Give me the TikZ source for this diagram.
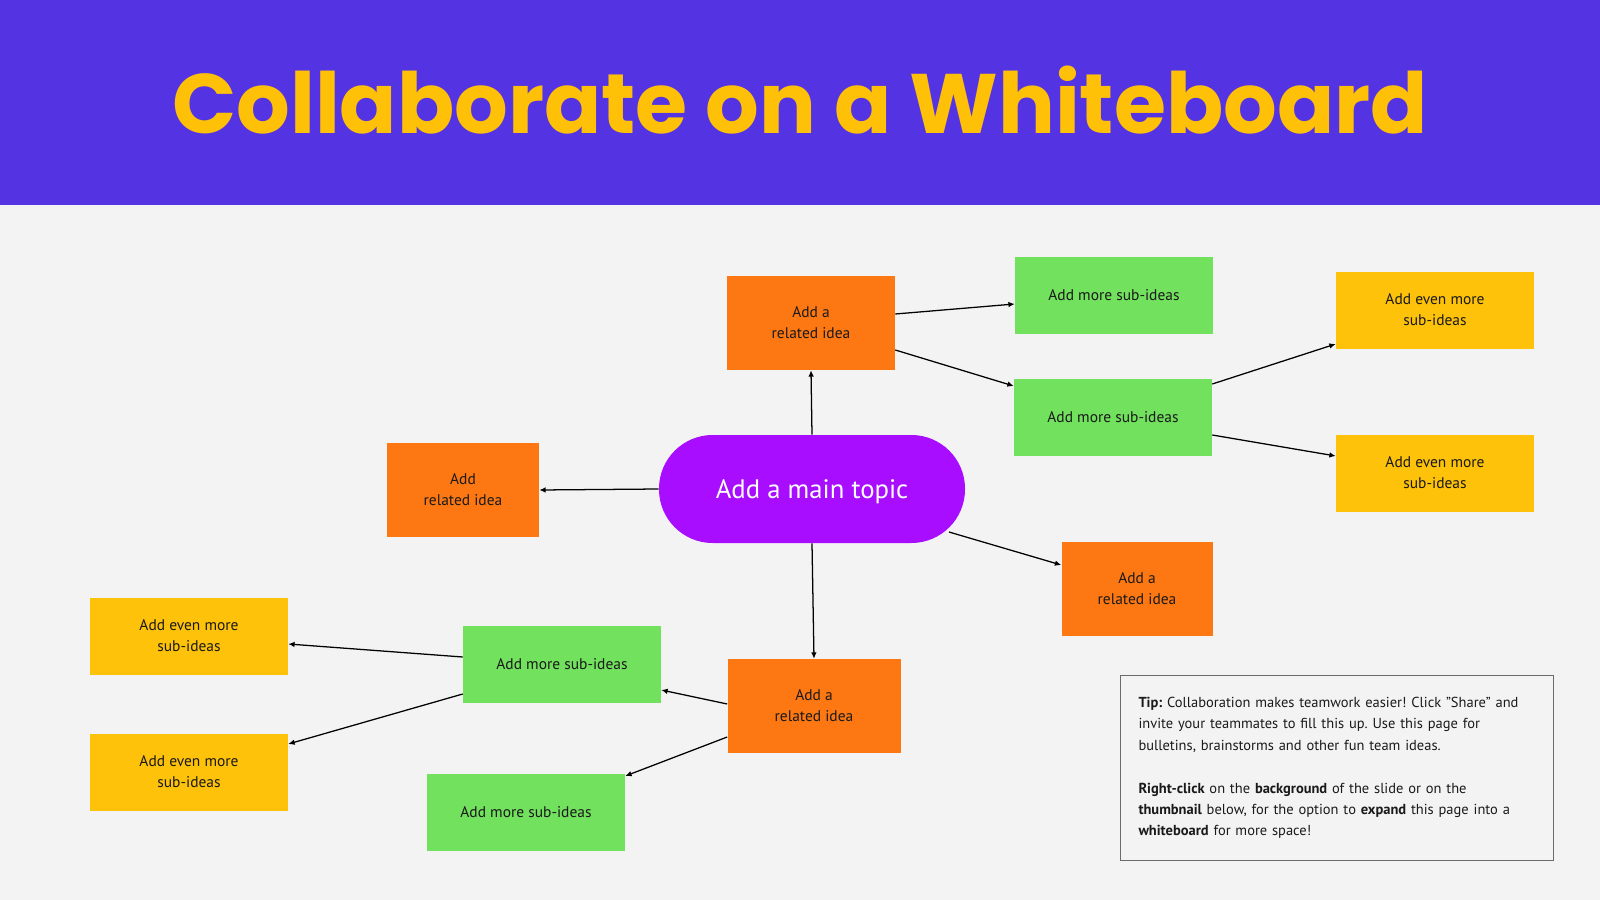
\documentclass[tikz,border=0pt]{standalone}
\usepackage{fontspec}
\setmainfont{PT Sans}
\newfontfamily\titlefont{Poppins}
\usetikzlibrary{arrows.meta,positioning,calc}

\definecolor{bandcol}{HTML}{5433E3}
\definecolor{titlecol}{HTML}{FFC107}
\definecolor{pagecol}{HTML}{F3F3F3}
\definecolor{topiccol}{HTML}{A80DFF}
\definecolor{ideacol}{HTML}{FD7812}
\definecolor{subcol}{HTML}{72E15E}
\definecolor{morecol}{HTML}{FFC20A}
\definecolor{inkcol}{HTML}{1A1A1A}
\definecolor{tipline}{HTML}{6B6B6B}

\def\pxu{0.025cm}
\frenchspacing

\tikzset{
  box/.style={align=center, text=inkcol, inner sep=0pt,
    font=\fontsize{11}{15}\selectfont},
  idea/.style={box, fill=ideacol, minimum height=94*\pxu},
  subidea/.style={box, fill=subcol, minimum width=198*\pxu, minimum height=77*\pxu},
  evenmore/.style={box, fill=morecol, minimum width=198*\pxu, minimum height=77*\pxu},
  link/.style={-{Latex[length=4.5pt,width=4pt]}, line width=0.9pt}
}

\begin{document}
\begin{tikzpicture}[x=0.025cm, y=-0.025cm]
  % page and header band
  \fill[pagecol] (0,0) rectangle (1600,900);
  \fill[bandcol] (0,0) rectangle (1600,205);
  \node (title) at (800,100) {\titlefont\bfseries\color{titlecol}\fontsize{60}{66}\selectfont Collaborate on a Whiteboard};

  % main topic
  \node[fill=topiccol, rounded corners=1.34cm, minimum width=306*\pxu, minimum height=108*\pxu,
        text=white, text depth=0pt, font=\fontsize{19}{22}\selectfont] (main) at (812,489) {Add a main topic};

  % related ideas
  \node[idea, minimum width=168*\pxu] (relT) at (811,323) {Add a\\related idea};
  \node[idea, minimum width=152*\pxu] (relL) at (463,490) {Add\\related idea};
  \node[idea, minimum width=151*\pxu] (relR) at (1137,589) {Add a\\related idea};
  \node[idea, minimum width=173*\pxu] (relB) at (814,706) {Add a\\related idea};

  % sub-ideas
  \node[subidea] (subT) at (1114,295) {Add more sub-ideas};
  \node[subidea] (subM) at (1113,417) {Add more sub-ideas};
  \node[subidea] (subL) at (562,664) {Add more sub-ideas};
  \node[subidea] (subD) at (526,812) {Add more sub-ideas};

  \node[evenmore] (moreA) at (1435,310) {Add even more\\sub-ideas};
  \node[evenmore] (moreB) at (1435,473) {Add even more\\sub-ideas};
  \node[evenmore] (moreC) at (189,636) {Add even more\\sub-ideas};
  \node[evenmore] (moreD) at (189,772) {Add even more\\sub-ideas};

  % connectors
  \draw[link] (main.north) -- (relT.south);
  \draw[link] (main.west) -- (relL.east);
  \draw[link] (main.south) -- (relB.north);
  \draw[link] ($(main.center)+(137,43)$) -- ($(relR.west)+(0,-24)$);
  \draw[link] ($(relT.east)+(0,-9)$) -- ($(subT.west)+(0,9)$);
  \draw[link] ($(relT.east)+(0,27)$) -- ($(subM.west)+(0,-31)$);
  \draw[link] ($(subM.east)+(0,-33)$) -- ($(moreA.west)+(0,34)$);
  \draw[link] ($(subM.east)+(0,18)$) -- ($(moreB.west)+(0,-17)$);
  \draw[link] ($(relB.west)+(0,-2)$) -- ($(subL.east)+(0,26)$);
  \draw[link] ($(relB.west)+(0,31)$) -- ($(subD.east)+(0,-36)$);
  \draw[link] ($(subL.west)+(0,-7)$) -- ($(moreC.east)+(0,8)$);
  \draw[link] ($(subL.west)+(0,30)$) -- ($(moreD.east)+(0,-28)$);

  % tip box
  \node[draw=tipline, line width=0.8pt, minimum width=433*\pxu, minimum height=185*\pxu,
        text width=397*\pxu, inner xsep=18*\pxu, align=left, text=inkcol,
        font=\fontsize{10.3}{15.2}\selectfont] (tip) at (1337,768)
    {\textbf{Tip:} Collaboration makes teamwork easier! Click \char34 Share\char34{} and\\
     invite your teammates to fill this up. Use this page for\\
     bulletins, brainstorms and other fun team ideas.\\[15.2pt]
     \textbf{Right-click} on the \textbf{background} of the slide or on the\\
     \textbf{thumbnail} below, for the option to \textbf{expand} this page into a\\
     \textbf{whiteboard} for more space!};
\end{tikzpicture}
\end{document}
